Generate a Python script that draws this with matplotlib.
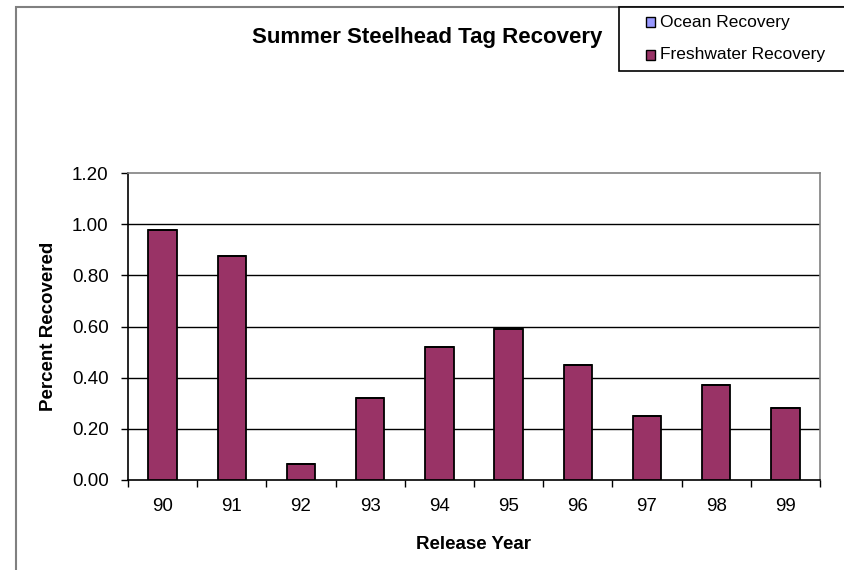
import matplotlib
matplotlib.use("Agg")
import matplotlib.pyplot as plt
from matplotlib.patches import Rectangle
import numpy as np

plt.rcParams['font.family'] = ['Liberation Sans', 'DejaVu Sans']

years = ["90", "91", "92", "93", "94", "95", "96", "97", "98", "99"]
freshwater = [0.977, 0.874, 0.064, 0.322, 0.518, 0.592, 0.449, 0.252, 0.370, 0.280]
ocean = [0, 0, 0, 0, 0, 0, 0, 0, 0, 0]
series_names = ['Ocean Recovery', 'Freshwater Recovery']
yticks = [0.0, 0.2, 0.4, 0.6, 0.8, 1.0, 1.2]

W, H = 845, 570
fig = plt.figure(figsize=(W / 100, H / 100), dpi=100)
ax = fig.add_axes([128 / W, 1 - 480 / H, (820 - 128) / W, (480 - 173) / H])

x = np.arange(len(years))
fresh_c = '#993366'
ocean_c = '#9999FF'
colors = [ocean_c, fresh_c]
ax.bar(x, freshwater, width=0.41, color=fresh_c, edgecolor='black', linewidth=1.3, zorder=3)
ax.bar(x, ocean, width=0.41, bottom=freshwater, color=ocean_c, edgecolor='black', linewidth=1.3,
       zorder=3)

ax.set_xlim(-0.5, len(years) - 0.5)
ax.set_ylim(0, 1.2)
ax.set_yticks(yticks)
ax.set_yticklabels([f"{v:.2f}" for v in yticks], fontsize=13.5)
ax.set_xticks(x)
ax.set_xticklabels(years, fontsize=13.5)
ax.set_xticks(np.arange(-0.5, len(years)), minor=True)
ax.tick_params(axis='x', which='major', length=0, pad=13)
ax.tick_params(axis='x', which='minor', length=5, width=1, direction='out', color='black')
ax.tick_params(axis='y', length=5, width=1, direction='out', pad=9)

for v in yticks[1:-1]:
    ax.axhline(v, color='black', linewidth=1.0, zorder=1)

ax.spines['left'].set_color('black')
ax.spines['bottom'].set_color('black')
ax.spines['top'].set_color('#808080')
ax.spines['right'].set_color('#808080')
for s in ax.spines.values():
    s.set_linewidth(1.2)

ax.set_xlabel('Release Year', fontsize=13.5, fontweight='bold', labelpad=15)
ax.set_ylabel('Percent Recovered', fontsize=13.5, fontweight='bold', labelpad=11)

fig.text(427 / W, 1 - 38 / H, 'Summer Steelhead Tag Recovery', fontsize=16, fontweight='bold',
         ha='center', va='center')

# outer chart border
fig.patches.append(Rectangle((16 / W, -0.1), 1.2, 1 - 6.5 / H + 0.1, transform=fig.transFigure,
                             fill=False, edgecolor='#808080', linewidth=1.5, zorder=0))

# legend box (drawn in figure pixels)
fig.patches.append(Rectangle((619 / W, 1 - 71 / H), 1.0, 64 / H, transform=fig.transFigure,
                             facecolor='white', edgecolor='black', linewidth=1.2, zorder=5))
row_y = [22, 55]
for name, c, yy in zip(series_names, colors, row_y):
    fig.patches.append(Rectangle((646 / W, 1 - (yy + 4.5) / H), 9 / W, 9 / H,
                                 transform=fig.transFigure, facecolor=c, edgecolor='black',
                                 linewidth=1.0, zorder=6))
    fig.text(660 / W, 1 - yy / H, name, fontsize=12.5, ha='left', va='center', zorder=7)

fig.savefig('out.png', dpi=100)
